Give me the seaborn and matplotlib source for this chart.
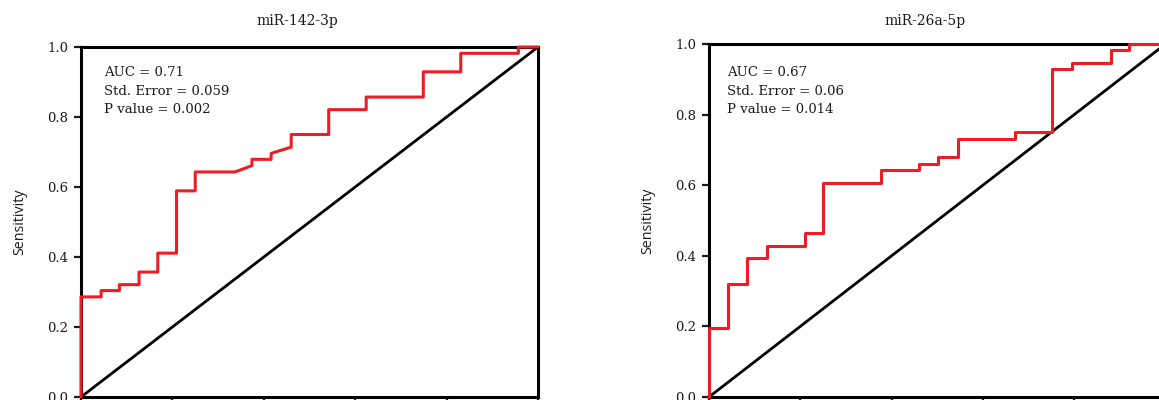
import pandas as pd
import matplotlib
matplotlib.use("Agg")
import matplotlib.pyplot as plt
import seaborn as sns

# ROC curve of miR-142-3p (1 - specificity, sensitivity)
fpr_142 = [0.0, 0.0, 0.044, 0.044, 0.084, 0.084, 0.127, 0.127, 0.168, 0.168,
           0.209, 0.209, 0.250, 0.250, 0.337, 0.374, 0.374, 0.416, 0.416, 0.460,
           0.460, 0.542, 0.542, 0.624, 0.624, 0.749, 0.749, 0.831, 0.831, 0.957,
           0.957, 1.0]
tpr_142 = [0.0, 0.286, 0.286, 0.304, 0.304, 0.321, 0.321, 0.357, 0.357, 0.411,
           0.411, 0.589, 0.589, 0.643, 0.643, 0.661, 0.679, 0.679, 0.696, 0.714,
           0.750, 0.750, 0.821, 0.821, 0.857, 0.857, 0.929, 0.929, 0.982, 0.982,
           1.0, 1.0]

# ROC curve of miR-26a-5p
fpr_26a = [0.0, 0.0, 0.042, 0.042, 0.083, 0.083, 0.126, 0.126, 0.210, 0.210,
           0.250, 0.250, 0.376, 0.376, 0.460, 0.460, 0.502, 0.502, 0.545, 0.545,
           0.670, 0.670, 0.752, 0.752, 0.796, 0.796, 0.880, 0.880, 0.921, 0.921,
           1.0]
tpr_26a = [0.0, 0.196, 0.196, 0.321, 0.321, 0.393, 0.393, 0.429, 0.429, 0.464,
           0.464, 0.607, 0.607, 0.643, 0.643, 0.661, 0.661, 0.679, 0.679, 0.732,
           0.732, 0.750, 0.750, 0.929, 0.929, 0.946, 0.946, 0.982, 0.982, 1.0,
           1.0]

ref_line = [0.0, 1.0]

titles = ["miR-142-3p", "miR-26a-5p"]
stats = [["AUC = 0.71", "Std. Error = 0.059", "P value = 0.002"],
         ["AUC = 0.67", "Std. Error = 0.06", "P value = 0.014"]]
tick_vals = [0.0, 0.2, 0.4, 0.6, 0.8, 1.0]
tick_labels = ["0.0", "0.2", "0.4", "0.6", "0.8", "1.0"]

sns.set_theme(style="white")
plt.rcParams["font.family"] = ["DejaVu Serif"]
plt.rcParams["text.color"] = "#1a1a1a"
plt.rcParams["xtick.color"] = "#1a1a1a"
plt.rcParams["ytick.color"] = "#1a1a1a"

W, H = 1159, 400
fig = plt.figure(figsize=(W / 100, H / 100), dpi=100)

# axes boxes in pixels: left, top, width (bottom spine sits at y=397)
boxes = [(81, 47, 457), (709, 44, 456.5)]
curves = [(fpr_142, tpr_142), (fpr_26a, tpr_26a)]
text_x = [0.05, 0.04]

for i, (left, top, width) in enumerate(boxes):
    ax = fig.add_axes([left / W, (H - 397) / H, width / W, (397 - top) / H])
    height_px = 397 - top

    diag = pd.DataFrame({"x": ref_line, "y": ref_line})
    sns.lineplot(data=diag, x="x", y="y", ax=ax, color="black", linewidth=2.0,
                 sort=False, estimator=None, zorder=2)
    roc = pd.DataFrame({"fpr": curves[i][0], "tpr": curves[i][1]})
    sns.lineplot(data=roc, x="fpr", y="tpr", ax=ax, color="#ee1c25", linewidth=2.2,
                 sort=False, estimator=None, zorder=4, clip_on=False)

    ax.set_xlim(0, 1)
    ax.set_ylim(0, 1)
    # the x tick labels fall below the cropped figure, so only the marks show
    ax.set_xticks(tick_vals)
    ax.set_xticklabels([])
    ax.set_yticks(tick_vals)
    ax.set_yticklabels(tick_labels)
    ax.tick_params(axis="both", direction="out", length=5, width=1.6, pad=4.3,
                   labelsize=9.5, left=True, bottom=True)
    for sp in ax.spines.values():
        sp.set_visible(True)
        sp.set_color("black")
        sp.set_linewidth(2.2)

    ax.set_xlabel("")
    ax.set_ylabel("Sensitivity", family="Open Sans", fontsize=10.3, labelpad=14,
                  color="#1a1a1a")
    ax.set_title(titles[i], x=0.473, fontsize=10, pad=(top - 25) * 0.72)

    for j, line in enumerate(stats[i]):
        y_px = [76, 95, 113][j]
        ax.text(text_x[i], (397 - y_px) / height_px, line, transform=ax.transAxes,
                fontsize=9.5, ha="left", va="baseline")

fig.savefig("out.png", dpi=100)
